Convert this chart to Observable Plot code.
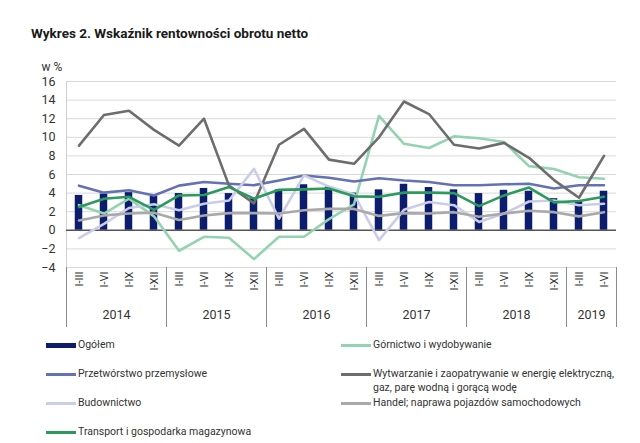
<!DOCTYPE html>
<html><head><meta charset="utf-8">
<script src="https://cdn.jsdelivr.net/npm/d3@7"></script>
<script src="https://cdn.jsdelivr.net/npm/@observablehq/plot@0.6"></script>
<style>
body{margin:0;background:#fff;width:640px;height:443px;position:relative;overflow:hidden;font-family:Roboto,sans-serif;}
#title{position:absolute;left:31px;top:25px;font-weight:700;font-size:13.5px;line-height:16px;color:#1a1a1a;}
#chart{position:absolute;left:0;top:50px;}
.lg{position:absolute;font-size:10.5px;color:#333;line-height:14px;display:flex;align-items:flex-start;white-space:pre-line;}
.sw{display:inline-block;width:30px;margin-right:2px;flex:none;}
</style></head><body>
<div id="title">Wykres 2. Wskaźnik rentowności obrotu netto</div>
<div id="chart"></div>
<div id="legend"></div>
<script>
// ---- data ----
const years = ["2014","2015","2016","2017","2018","2019"];
const periods = ["I-III","I-VI","I-IX","I-XII"];
const periodsPerYear = [4,4,4,4,4,2];
const yTicks = [-4,-2,0,2,4,6,8,10,12,14,16];

const totalName = "Ogółem";
const total = [3.75,3.9,4.05,3.65, 3.95,4.5,3.95,3.4, 4.35,4.9,4.65,4.0, 4.35,4.95,4.6,4.35, 3.95,4.3,4.2,3.4, 3.2,4.2];

const gornictwo = [2.7,1.8,3.4,1.5, -2.2,-0.7,-0.8,-3.1, -0.7,-0.7,1.2,2.8, 12.3,9.3,8.85,10.1, 9.9,9.5,6.9,6.6, 5.7,5.55];
const przetworstwo = [4.8,4.05,4.3,3.75, 4.8,5.2,5.0,4.85, 5.35,5.9,5.65,5.25, 5.6,5.35,5.2,4.85, 4.85,4.95,5.0,4.5, 4.85,4.85];
const wytwarzanie = [9.1,12.4,12.85,10.8, 9.1,12.0,4.8,2.9, 9.2,10.9,7.6,7.15, 10.0,13.85,12.5,9.2, 8.8,9.4,7.8,5.4, 3.5,8.0];
const budownictwo = [-0.85,0.7,2.4,2.8, 2.15,2.85,3.2,6.6, 1.25,5.9,4.7,3.85, -1.05,2.2,3.05,2.7, 0.9,1.8,3.1,3.2, 2.7,2.85];
const handel = [1.05,1.6,1.8,1.9, 1.1,1.6,1.85,1.85, 1.8,2.15,2.3,2.3, 1.55,1.85,1.8,1.95, 1.45,1.8,2.1,1.95, 1.5,1.95];
const transport = [2.5,3.4,3.6,2.2, 3.75,3.8,4.65,3.4, 4.35,4.4,4.5,3.65, 3.6,4.05,4.05,4.0, 2.6,3.75,4.6,3.0, 3.15,3.6];

const seriesNames = ["Górnictwo i wydobywanie","Przetwórstwo przemysłowe","Wytwarzanie i zaopatrywanie w energię elektryczną, gaz, parę wodną i gorącą wodę","Budownictwo","Handel; naprawa pojazdów samochodowych","Transport i gospodarka magazynowa"];
const seriesValues = [gornictwo, przetworstwo, wytwarzanie, budownictwo, handel, transport];
const seriesColors = ["#93d3b0","#6472b3","#6d6d6d","#c9cde8","#a9a9a9","#2b9a5c"];
const totalColor = "#0c1d6e";

// ---- build tables ----
const keys = [];
years.forEach((y, yi) => periods.slice(0, periodsPerYear[yi]).forEach(p => keys.push(y + " " + p)));
const barTable = keys.map((k, i) => ({key: k, value: total[i]}));
const lineTable = [];
seriesNames.forEach((n, si) => keys.forEach((k, i) => lineTable.push({key: k, series: n, value: seriesValues[si][i]})));
const yearTable = [];
let start = 0;
years.forEach((y, yi) => {
  const n = periodsPerYear[yi];
  const mid = (n - 1) / 2;
  yearTable.push({year: y, first: keys[start], centerKey: keys[start + Math.floor(mid)], half: mid % 1 !== 0});
  start += n;
});

const bw = 25;
const chart = Plot.plot({
  width: 640, height: 290,
  marginTop: 31, marginBottom: 73, marginLeft: 66, marginRight: 24,
  style: {fontFamily: "Roboto, sans-serif", fontSize: "12px", color: "#333", background: "transparent"},
  x: {type: "band", domain: keys, padding: 0},
  y: {domain: [-4, 16]},
  color: {domain: seriesNames, range: seriesColors},
  marks: [
    Plot.gridY(yTicks.filter(d => d !== 0), {stroke: "#d9d9d9", strokeOpacity: 1}),
    Plot.axisY(yTicks, {tickSize: 0, tickPadding: 11, label: null, fontSize: 12.5}),
    Plot.axisX({tickSize: 0, tickRotate: -90, tickPadding: 4, tickFormat: d => d.split(" ")[1], label: null, fontSize: 11}),
    Plot.ruleX([keys[0]], {dx: -bw/2, stroke: "#cfcfcf"}),
    Plot.ruleX(yearTable, {x: "first", dx: -bw/2, stroke: "#8a8a8a", insetTop: 186, insetBottom: -60}),
    Plot.ruleX([keys[keys.length-1]], {dx: bw/2, stroke: "#8a8a8a", insetTop: 186, insetBottom: -60}),
    Plot.barY(barTable, {x: "key", y: "value", fill: totalColor, insetLeft: 8.75, insetRight: 8.75}),
    Plot.ruleY([0], {stroke: "#555", strokeWidth: 1.5}),
    Plot.line(lineTable, {x: "key", y: "value", z: "series", stroke: "series", strokeWidth: 2.6}),
    Plot.text(yearTable.filter(d => !d.half), {x: "centerKey", text: "year", frameAnchor: "bottom", dy: 51, fontSize: 12.5, fill: "#333"}),
    Plot.text(yearTable.filter(d => d.half), {x: "centerKey", text: "year", frameAnchor: "bottom", dy: 51, dx: bw/2, fontSize: 12.5, fill: "#333"}),
    Plot.text(["w %"], {frameAnchor: "top-left", dx: -25, dy: -19, fontSize: 12, fill: "#333"})
  ]
});
document.getElementById("chart").appendChild(chart);

// ---- legend ----
const legendNames = [totalName, ...seriesNames];
const legendColors = [totalColor, ...seriesColors];
const legendSlots = [[46,338],[341,338],[46,367],[341,367],[46,396],[341,396],[46,425]];
const lg = document.getElementById("legend");
legendNames.forEach((n, i) => {
  const d = document.createElement("div");
  d.className = "lg";
  d.style.left = legendSlots[i][0] + "px";
  d.style.top = legendSlots[i][1] + "px";
  const s = document.createElement("span");
  s.className = "sw";
  s.style.height = (i === 0 ? 5 : 3) + "px";
  s.style.marginTop = (i === 0 ? 5 : 6) + "px";
  s.style.background = legendColors[i];
  const t = document.createElement("span");
  t.textContent = n.replace("elektryczną, ", "elektryczną,\n");
  d.appendChild(s); d.appendChild(t);
  lg.appendChild(d);
});
</script>
</body></html>
